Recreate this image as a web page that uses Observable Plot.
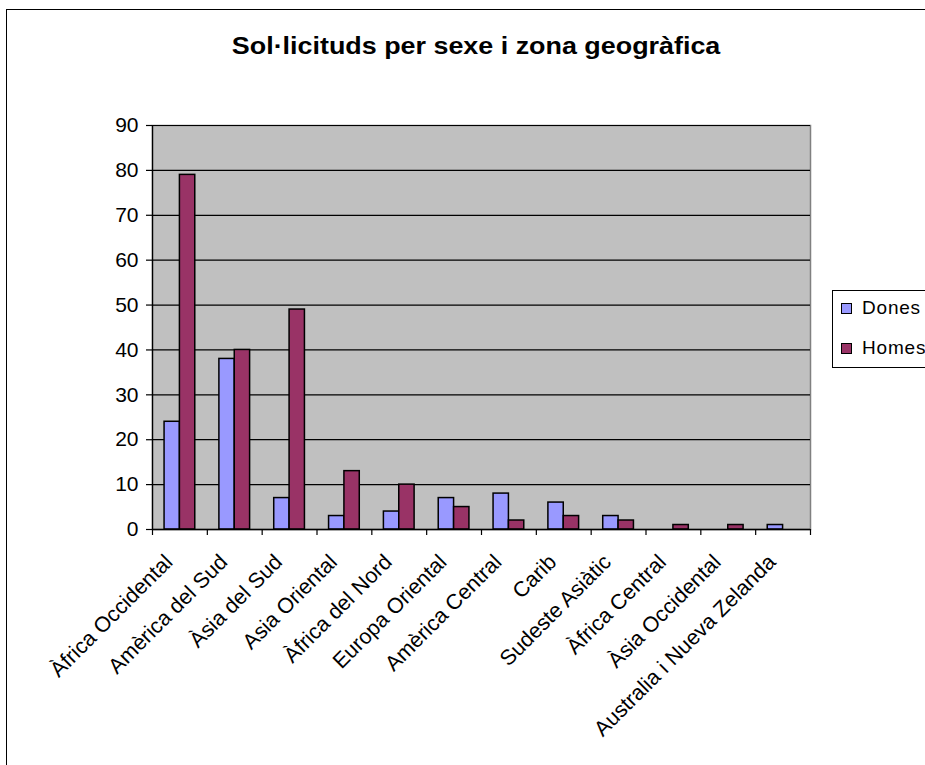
<!DOCTYPE html>
<html>
<head>
<meta charset="utf-8">
<script src="https://cdn.jsdelivr.net/npm/d3@7"></script>
<script src="https://cdn.jsdelivr.net/npm/@observablehq/plot@0.6"></script>
<style>
  html, body { margin: 0; padding: 0; background: #fff; overflow: hidden; }
  #chart { position: relative; width: 925px; height: 765px; overflow: hidden; font-family: "Liberation Sans", Arial, sans-serif; color: #000; }
  #frame { position: absolute; left: 6px; top: 9px; width: 940px; height: 780px; border: 1px solid #000; box-sizing: border-box; }
  #title { position: absolute; left: 0; top: 31px; width: 953px; text-align: center; font-weight: bold; font-size: 24px; line-height: 30px; }
  #title span { display: inline-block; transform: scaleX(1.12); }
  #plot { position: absolute; left: 0; top: 100px; }
  #legend { position: absolute; left: 832px; top: 290px; width: 110px; height: 78px; border: 1px solid #000; background: #fff; box-sizing: border-box; font-size: 19px; }
  .item { position: absolute; left: 8px; display: flex; align-items: center; white-space: nowrap; letter-spacing: 0.8px; }
  .sw { width: 11px; height: 11px; border: 1.5px solid #000; box-sizing: border-box; margin-right: 10px; }
</style>
</head>
<body>
<div id="chart">
  <div id="frame"></div>
  <div id="title"><span>Sol·licituds per sexe i zona geogràfica</span></div>
  <div id="plot"></div>
  <div id="legend"></div>
</div>
<script>
const categories = [
  "Àfrica Occidental", "Amèrica del Sud", "Àsia del Sud", "Asia Oriental",
  "Àfrica del Nord", "Europa Oriental", "Amèrica Central", "Carib",
  "Sudeste Asiàtic", "Àfrica Central", "Àsia Occidental", "Australia i Nueva Zelanda"
];
const dones = [24, 38, 7, 3, 4, 7, 8, 6, 3, 0, 0, 1];
const homes = [79, 40, 49, 13, 10, 5, 2, 3, 2, 1, 1, 0];
const seriesNames = ["Dones", "Homes"];
const seriesColors = ["#9999FF", "#993366"];
const yTicks = [0, 10, 20, 30, 40, 50, 60, 70, 80, 90];

const rows = categories.map((c, i) => ({i, c, dones: dones[i], homes: homes[i]}));
const edges = d3.range(categories.length + 1);
const centers = categories.map((c, i) => i + 0.5);

const chart = Plot.plot({
  width: 925,
  height: 665,
  marginTop: 25,
  marginBottom: 236,
  marginLeft: 152,
  marginRight: 115,
  style: {fontFamily: "'Liberation Sans', Arial, sans-serif", color: "#000", background: "transparent", overflow: "visible"},
  x: {type: "linear", domain: [0, categories.length]},
  y: {domain: [0, 90]},
  marks: [
    Plot.frame({fill: "#C0C0C0", stroke: "#808080", strokeWidth: 1.5}),
    Plot.gridY(yTicks, {stroke: "#000", strokeOpacity: 1, strokeWidth: 1.2}),
    Plot.rect(rows.filter(d => d.dones > 0), {
      x1: d => d.i + 0.22, x2: d => d.i + 0.5, y1: d => 0, y2: "dones",
      fill: seriesColors[0], stroke: "#000", strokeWidth: 1.5
    }),
    Plot.rect(rows.filter(d => d.homes > 0), {
      x1: d => d.i + 0.5, x2: d => d.i + 0.78, y1: d => 0, y2: "homes",
      fill: seriesColors[1], stroke: "#000", strokeWidth: 1.5
    }),
    Plot.ruleY([0], {stroke: "#000", strokeWidth: 1.3}),
    Plot.ruleX([0], {stroke: "#000", strokeWidth: 1.3}),
    Plot.axisY({ticks: yTicks, tickSize: 6, tickPadding: 8, fontSize: 21, stroke: "#000", strokeWidth: 1.2, label: null, style: {letterSpacing: "0.8px"}}),
    Plot.axisX({ticks: edges, tickSize: 6, tickFormat: () => "", stroke: "#000", strokeWidth: 1.2, label: null}),
    Plot.axisX({ticks: centers, tickSize: 0, tickPadding: 29, dx: -11, tickRotate: -45, fontSize: 21.5,
      tickFormat: v => categories[Math.floor(v)], label: null, style: {letterSpacing: "1px"}})
  ]
});
document.getElementById("plot").appendChild(chart);

const legend = document.getElementById("legend");
seriesNames.forEach((name, k) => {
  const item = document.createElement("div");
  item.className = "item";
  item.style.top = (k === 0 ? 6 : 46) + "px";
  const sw = document.createElement("span");
  sw.className = "sw";
  sw.style.background = seriesColors[k];
  const t = document.createElement("span");
  t.textContent = name;
  item.appendChild(sw);
  item.appendChild(t);
  legend.appendChild(item);
});
</script>
</body>
</html>
